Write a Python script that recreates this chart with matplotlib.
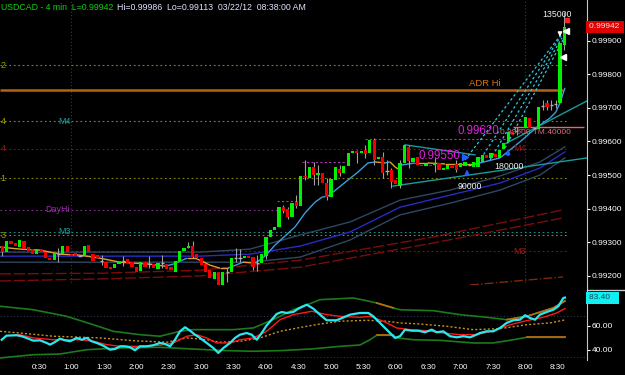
import numpy as np
import matplotlib.pyplot as plt
from matplotlib.collections import LineCollection
from matplotlib.lines import Line2D
from matplotlib.transforms import blended_transform_factory

plt.rcParams['font.family'] = ['Liberation Sans', 'DejaVu Sans']

# ---- 4 min candles, first bar 23:56 ----
opens = [0.99288, 0.99270, 0.99303, 0.99297, 0.99285, 0.99303, 0.99285, 0.99279, 0.99264, 0.99279,
         0.99270, 0.99252, 0.99246, 0.99264, 0.99264, 0.99288, 0.99264, 0.99267, 0.99258, 0.99261,
         0.99291, 0.99264, 0.99261, 0.99243, 0.99240, 0.99225, 0.99222, 0.99234, 0.99243, 0.99249,
         0.99240, 0.99225, 0.99213, 0.99240, 0.99234, 0.99234, 0.99219, 0.99237, 0.99234, 0.99225,
         0.99210, 0.99243, 0.99273, 0.99282, 0.99288, 0.99264, 0.99252, 0.99234, 0.99216, 0.99190,
         0.99210, 0.99172, 0.99210, 0.99210, 0.99252, 0.99252, 0.99252, 0.99258, 0.99255, 0.99237,
         0.99237, 0.99258, 0.99315, 0.99336, 0.99345, 0.99404, 0.99399, 0.99375, 0.99419, 0.99407,
         0.99497, 0.99491, 0.99524, 0.99500, 0.99506, 0.99476, 0.99434, 0.99485, 0.99518, 0.99506,
         0.99527, 0.99566, 0.99572, 0.99566, 0.99575, 0.99566, 0.99604, 0.99548, 0.99554, 0.99512,
         0.99515, 0.99485, 0.99467, 0.99536, 0.99584, 0.99539, 0.99554, 0.99530, 0.99527, 0.99530,
         0.99530, 0.99536, 0.99515, 0.99518, 0.99527, 0.99533, 0.99524, 0.99527, 0.99530, 0.99524,
         0.99524, 0.99539, 0.99560, 0.99551, 0.99563, 0.99551, 0.99578, 0.99599, 0.99628, 0.99631,
         0.99637, 0.99640, 0.99670, 0.99640, 0.99637, 0.99706, 0.99715, 0.99709, 0.99712, 0.99715,
         0.99888]
closes = [0.99270, 0.99303, 0.99294, 0.99288, 0.99306, 0.99279, 0.99273, 0.99264, 0.99279, 0.99270,
          0.99252, 0.99246, 0.99267, 0.99264, 0.99288, 0.99270, 0.99258, 0.99258, 0.99258, 0.99288,
          0.99270, 0.99243, 0.99252, 0.99243, 0.99222, 0.99219, 0.99234, 0.99243, 0.99243, 0.99237,
          0.99225, 0.99210, 0.99240, 0.99225, 0.99234, 0.99222, 0.99237, 0.99237, 0.99219, 0.99216,
          0.99243, 0.99273, 0.99282, 0.99288, 0.99255, 0.99252, 0.99231, 0.99210, 0.99193, 0.99210,
          0.99172, 0.99210, 0.99210, 0.99252, 0.99252, 0.99252, 0.99258, 0.99252, 0.99225, 0.99237,
          0.99264, 0.99315, 0.99336, 0.99345, 0.99404, 0.99393, 0.99375, 0.99416, 0.99407, 0.99497,
          0.99494, 0.99524, 0.99500, 0.99506, 0.99476, 0.99434, 0.99488, 0.99524, 0.99506, 0.99527,
          0.99566, 0.99572, 0.99566, 0.99572, 0.99563, 0.99604, 0.99545, 0.99554, 0.99506, 0.99512,
          0.99479, 0.99473, 0.99536, 0.99590, 0.99542, 0.99551, 0.99530, 0.99527, 0.99533, 0.99527,
          0.99536, 0.99515, 0.99521, 0.99530, 0.99521, 0.99515, 0.99536, 0.99539, 0.99530, 0.99539,
          0.99554, 0.99560, 0.99551, 0.99566, 0.99554, 0.99575, 0.99596, 0.99628, 0.99619, 0.99631,
          0.99634, 0.99673, 0.99640, 0.99640, 0.99703, 0.99706, 0.99703, 0.99709, 0.99712, 0.99894,
          0.99942]

# bars with visible wicks
wick_k = [0, 13, 23, 28, 34, 37, 43, 44, 52, 54, 55, 58, 59, 61, 65, 66, 68, 70, 72, 73, 75, 78,
          82, 84, 86, 88, 89, 90, 92, 94, 100, 105, 119, 125, 126, 127, 128, 130]
wick_hi = [0.99288, 0.99282, 0.99261, 0.99258, 0.99258, 0.99261, 0.99300, 0.99303, 0.99222, 0.99282,
           0.99279, 0.99255, 0.99261, 0.99315, 0.99410, 0.99404, 0.99440, 0.99545, 0.99539, 0.99530,
           0.99491, 0.99530, 0.99575, 0.99590, 0.99610, 0.99569, 0.99545, 0.99521, 0.99545, 0.99590,
           0.99551, 0.99545, 0.99643, 0.99724, 0.99724, 0.99724, 0.99724, 0.99986]
wick_lo = [0.99258, 0.99240, 0.99231, 0.99228, 0.99222, 0.99222, 0.99282, 0.99252, 0.99181, 0.99240,
           0.99240, 0.99216, 0.99213, 0.99249, 0.99387, 0.99369, 0.99401, 0.99485, 0.99470, 0.99470,
           0.99425, 0.99497, 0.99536, 0.99551, 0.99530, 0.99491, 0.99500, 0.99461, 0.99461, 0.99521,
           0.99509, 0.99509, 0.99619, 0.99694, 0.99694, 0.99694, 0.99700, 0.99873]

# fast average (orange when falling, blue when rising)
fast_t = [-6.1, 12.4, 30.9, 49.4, 67.9, 86.4, 104.9, 132.7, 146.6, 154.0, 166.9, 174.3, 180.8, 188.2,
          197.4, 204.8, 209.5, 218.7, 229.8, 239.1, 248.3, 257.6, 266.8, 276.1, 285.3, 291.8, 297.3,
          306.6, 315.8, 325.1, 334.3, 340.8, 350.1, 354.7, 359.3, 362.1, 365.8, 377.8, 389.8, 405.6,
          419.4, 433.3, 437.9, 456.4, 465.7, 474.9, 484.2, 493.4, 502.7, 508.2, 511.9, 516.5]
fast_p = [0.99285, 0.99279, 0.99276, 0.99264, 0.99261, 0.99252, 0.99240, 0.99234, 0.99228, 0.99234,
          0.99252, 0.99252, 0.99243, 0.99231, 0.99222, 0.99222, 0.99228, 0.99240, 0.99237, 0.99258,
          0.99291, 0.99318, 0.99345, 0.99387, 0.99419, 0.99434, 0.99437, 0.99461, 0.99485, 0.99509,
          0.99536, 0.99539, 0.99536, 0.99539, 0.99524, 0.99518, 0.99530, 0.99536, 0.99536, 0.99533,
          0.99533, 0.99533, 0.99536, 0.99551, 0.99575, 0.99599, 0.99625, 0.99649, 0.99670, 0.99688,
          0.99715, 0.99760]

# envelope of the medium average
env_t = [-6.1, 86.4, 178.9, 225.2, 271.4, 317.7, 363.9, 410.2, 456.4, 493.4, 516.5]
env_up = [0.99270, 0.99270, 0.99270, 0.99279, 0.99321, 0.99360, 0.99425, 0.99455, 0.99497, 0.99539, 0.99584]
env_mid = [0.99258, 0.99258, 0.99258, 0.99264, 0.99288, 0.99330, 0.99404, 0.99440, 0.99476, 0.99521, 0.99569]
env_lo = [0.99240, 0.99240, 0.99240, 0.99240, 0.99255, 0.99306, 0.99381, 0.99416, 0.99455, 0.99500, 0.99551]

# slow averages (dark red)
slow_t = [-6.1, 86.4, 178.9, 271.4, 394.4, 514.7]
slow_a = [0.99205, 0.99207, 0.99216, 0.99246, 0.99315, 0.99396]
slow_b = [0.99184, 0.99190, 0.99199, 0.99225, 0.99297, 0.99372]

# drawn lines: (t0, p0, t1, p1)
fan_lines = [(424.1, 0.99545, 511.9, 0.99915), (436.1, 0.99536, 512.9, 0.99915),
             (447.2, 0.99545, 513.8, 0.99909), (461.1, 0.99581, 514.7, 0.99903)]
trend_lines = [(368.6, 0.99590, 433.3, 0.99560), (357.5, 0.99467, 536.9, 0.99551),
               (461.1, 0.99593, 536.9, 0.99721)]

# ---- RSI panel ----
rsi_t = [-4.5, -0.1, 9.4, 14.0, 20.1, 24.7, 30.9, 37.1, 40.2, 44.8, 49.4, 54.1, 58.7, 64.9, 69.5,
         74.1, 78.7, 83.4, 89.5, 95.7, 100.3, 104.9, 109.6, 114.2, 118.8, 123.4, 129.6, 135.7, 141.9,
         146.6, 151.2, 155.8, 160.4, 165.1, 169.7, 174.3, 178.9, 185.1, 191.2, 195.9, 200.5, 206.7,
         211.3, 215.9, 222.1, 226.7, 231.4, 236.0, 240.6, 245.2, 249.9, 254.5, 259.1, 265.2, 269.9,
         277.6, 283.7, 289.9, 296.1, 305.3, 317.7, 326.9, 334.6, 339.2, 345.4, 351.6, 359.3, 363.9,
         368.6, 374.8, 380.9, 387.1, 393.2, 397.9, 404.0, 410.2, 416.4, 422.5, 428.7, 433.3, 437.9,
         444.1, 450.2, 456.4, 462.6, 468.7, 474.9, 479.6, 484.2, 488.8, 493.4, 499.6, 505.7, 510.4,
         515.0, 516.5]
rsi_v = [48.3, 51.7, 52.0, 51.2, 49.2, 47.5, 47.8, 45.6, 44.2, 46.4, 49.2, 47.8, 47.0, 49.8, 48.3,
         49.8, 47.0, 45.6, 43.3, 40.0, 40.6, 42.8, 42.8, 42.0, 39.5, 42.8, 42.8, 43.7, 45.6,
         44.8, 42.8, 48.3, 55.3, 58.7, 55.8, 52.5, 49.8, 45.6, 41.4, 37.3, 41.4, 45.6,
         49.8, 52.5, 53.9, 52.5, 48.3, 53.9, 60.3, 65.0, 69.8, 71.4, 70.6, 71.4, 74.2,
         77.5, 74.2, 69.2, 64.5, 64.5, 69.2, 70.6, 70.6, 67.8, 62.3, 56.7, 49.8, 51.2,
         56.7, 55.8, 55.8, 54.5, 56.7, 54.5, 55.3, 51.2, 50.3, 51.2, 50.3, 52.0, 53.9,
         55.3, 55.3, 58.1, 62.3, 64.5, 65.0, 68.7, 66.4, 65.0, 69.2, 71.4, 73.3, 76.2,
         83.1, 83.4]
sig_t = [6.2, 12.4, 24.7, 43.2, 55.6, 67.9, 80.2, 92.6, 104.9, 123.4, 141.9, 154.2, 166.6, 175.9,
         185.1, 194.4, 206.7, 215.9, 228.2, 240.6, 252.9, 265.2, 282.2, 296.1, 308.4, 326.9, 336.2,
         348.5, 360.9, 373.2, 388.6, 404.0, 419.4, 434.9, 450.2, 465.7, 481.1, 496.5, 508.9, 516.5]
sig_v = [52.0, 52.5, 49.8, 48.3, 48.3, 48.3, 47.0, 44.2, 42.8, 42.8, 43.7, 45.6, 51.2, 52.5,
         49.8, 45.6, 45.6, 48.3, 49.8, 55.3, 65.0, 69.2, 72.0, 69.2, 67.8, 67.0, 67.8,
         63.7, 58.1, 56.7, 55.8, 53.9, 52.5, 52.5, 55.8, 60.8, 64.2, 67.0, 70.6, 74.3]
avg_t = [-6.1, 12.4, 43.2, 86.4, 117.2, 148.1, 166.6, 185.1, 197.4, 215.9, 234.4, 252.9, 271.4,
         289.9, 308.4, 333.1, 351.6, 363.9, 382.4, 407.1, 431.7, 456.4, 481.1, 502.7, 516.5]
avg_v = [55.3, 53.9, 51.2, 49.8, 47.5, 46.2, 49.8, 48.3, 46.2, 47.0, 49.8, 55.3, 58.5,
         61.4, 63.7, 64.5, 63.7, 62.3, 61.4, 59.5, 56.7, 57.5, 60.8, 62.3, 64.8]
bb_up_t = [-6.1, 24.7, 55.6, 80.2, 98.7, 123.4, 141.9, 160.4, 172.7, 209.7, 228.2, 249.9, 265.2,
           282.2, 289.9, 308.4, 320.7, 333.1, 342.4, 357.7, 363.9, 394.7, 419.4, 444.1, 462.6,
           481.1, 505.7, 516.5]
bb_up_v = [76.2, 73.3, 67.8, 60.8, 55.3, 52.5, 51.2, 55.3, 56.7, 56.7, 58.1, 66.4, 73.3,
           78.9, 81.7, 82.5, 83.1, 80.8, 78.9, 74.8, 73.3, 72.5, 69.2, 67.0, 65.0,
           67.8, 74.8, 80.6]
bb_lo_t = [-6.1, 24.7, 49.4, 74.1, 104.9, 141.9, 166.6, 203.6, 228.2, 252.9, 282.2, 308.4, 326.9,
           336.2, 342.4, 357.7, 360.9, 376.3, 400.9, 431.7, 450.2, 468.7, 481.1, 516.5]
bb_lo_v = [33.1, 35.8, 36.4, 40.0, 41.4, 42.0, 40.8, 39.2, 38.7, 39.2, 40.6, 42.8, 43.9,
           48.3, 52.0, 52.0, 49.8, 48.3, 47.8, 45.6, 45.6, 48.3, 50.3, 50.3]

price_ticks = [0.992, 0.993, 0.994, 0.995, 0.996, 0.997, 0.998, 0.999]
time_ticks = [30, 60, 90, 120, 150, 180, 210, 240, 270, 300, 330, 360, 390, 420, 450, 480, 510]
time_labels = ['0:30', '1:00', '1:30', '2:00', '2:30', '3:00', '3:30', '4:00', '4:30', '5:00',
               '5:30', '6:00', '6:30', '7:00', '7:30', '8:00', '8:30']

GREEN = '#00f000'
RED = '#f00000'
XMIN, XMAX = -6.1, 536.9
LEND = 518

fig = plt.figure(figsize=(6.25, 3.75), dpi=100, facecolor='black')
ax = fig.add_axes([0, 1 - 289 / 375, 587 / 625, 289 / 375], facecolor='black')
ax2 = fig.add_axes([0, 15 / 375, 587 / 625, 75 / 375], facecolor='black')

for a in (ax, ax2):
    a.set_xlim(XMIN, XMAX)
    for s in ('top', 'left', 'bottom'):
        a.spines[s].set_visible(False)
    a.spines['right'].set_color('#c8c8c8')
    a.yaxis.tick_right()
    a.tick_params(axis='y', colors='white', labelsize=6, length=2, pad=1.5)

ax.set_ylim(0.99160, 1.00022)
ax2.set_ylim(31.4, 93.9)

# session lines
ax.axvline(60, color='#3c3c1c', lw=0.8, ls=(0, (1, 2)))
ax.axvline(480, color='#1e4646', lw=0.8, ls=(0, (1, 2)))

# horizontal levels
dot = (0, (1.5, 2.5))
ax.hlines(0.99828, XMIN, LEND, color='#8a8a00', lw=0.8, ls=dot)
ax.hlines(0.99754, XMIN, 514.7, color='#b8620f', lw=1.8)
ax.hlines(0.99661, XMIN, LEND, color='#8a8a00', lw=0.8, ls=dot)
ax.hlines(0.99643, 468.5, 534.3, color='#e06a6a', lw=1)
ax.hlines(0.99578, XMIN, LEND, color='#8a1212', lw=0.8, ls=dot)
ax.hlines(0.99491, XMIN, LEND, color='#8a8a00', lw=0.8, ls=dot)
ax.hlines(0.99396, XMIN, 250, color='#8a2a9a', lw=0.8, ls=dot)
ax.hlines(0.99331, XMIN, LEND, color='#1a8c8c', lw=0.8, ls=dot)
ax.hlines(0.99321, XMIN, LEND, color='#8a8a00', lw=0.8, ls=dot)
ax.hlines(0.99273, XMIN, LEND, color='#8a1212', lw=0.8, ls=dot)
ax.hlines([0.99422, 0.99539, 0.99607], [250, 273.3, 331.6], [269.6, 313, 470],
          color='#b030b0', lw=0.8, ls=(0, (2, 2)))

lab = dict(fontsize=6.5, va='center', ha='left')
ax.text(-5.6, 0.99828, '2', color='#a0a000', **lab)
ax.text(-5.6, 0.99661, '4', color='#a0a000', **lab)
ax.text(-5.6, 0.99578, '4', color='#a01818', **lab)
ax.text(-5.6, 0.99491, '1', color='#a0a000', **lab)
ax.text(-5.6, 0.99321, '3', color='#a0a000', **lab)
ax.text(47.6, 0.99661, 'M4', color='#1a9c9c', **lab)
ax.text(47.6, 0.99331, 'M3', color='#1a9c9c', **lab)
ax.text(35.6, 0.99396, 'DayHi', color='#9a2aaa', **lab)
ax.text(468.5, 0.99578, 'M4', color='#a01818', **lab)
ax.text(468.5, 0.99273, 'M3', color='#a01818', **lab)
ax.text(427.8, 0.99772, 'ADR Hi', color='#d87010', fontsize=6.8, va='center', ha='left')

# averages
ax.plot(slow_t, slow_a, color='#7a0c0c', lw=1, ls=(0, (8, 2)))
ax.plot(slow_t, slow_b, color='#7a0c0c', lw=1, ls=(0, (8, 2)))
ax.plot(env_t, env_up, color='#2e4862', lw=1)
ax.plot(env_t, env_lo, color='#2e4862', lw=1)
ax.plot(env_t, env_mid, color='#2a2ac4', lw=1)
ax.plot([428.7, 514.7], [0.99172, 0.99196], color='#7a2a0a', lw=1, ls='-.')

fp = np.column_stack([fast_t, fast_p])
segs = np.stack([fp[:-1], fp[1:]], axis=1)
seg_col = ['#3a9ee0' if b > a else '#e0a030' for a, b in zip(fast_p[:-1], fast_p[1:])]
ax.add_collection(LineCollection(segs, colors=seg_col, linewidths=1))

for t0, p0, t1, p1 in trend_lines:
    ax.plot([t0, t1], [p0, p1], color='#1a9a9a', lw=1)
for t0, p0, t1, p1 in fan_lines:
    ax.plot([t0, t1], [p0, p1], color='#30c8e0', lw=0.9, ls=(0, (2, 2)))

# candles
o = np.array(opens)
c = np.array(closes)
bt = -4 + 4 * np.arange(len(o))
ax.vlines(bt[wick_k], wick_lo, wick_hi, color='#a0a0a0', lw=0.8, zorder=3)
flat = np.abs(c - o) < 0.00002
up = (c > o) & ~flat
dn = (c < o) & ~flat
ax.bar(bt[up], (c - o)[up], bottom=o[up], width=3.0, color=GREEN, zorder=4)
ax.bar(bt[dn], (c - o)[dn], bottom=o[dn], width=3.0, color=RED, zorder=4)
ax.hlines(c[flat], bt[flat] - 1.5, bt[flat] + 1.5, color='#b0b0b0', lw=1, zorder=4)

# markers and annotations
ax.annotate('', xy=(511.9, 0.99904), xytext=(511.9, 0.99930),
            arrowprops=dict(arrowstyle='-|>', color='white', lw=1, mutation_scale=6))
ax.plot([514.7, 517.5], [0.99852, 0.99930], ls='none', marker='<', ms=4, color='white', zorder=6)
ax.plot([518.6], [0.99962], ls='none', marker='s', ms=3.5, color='#ff2020', zorder=6)
ax.annotate('', xy=(425.9, 0.99525), xytext=(425.9, 0.99490),
            arrowprops=dict(arrowstyle='-|>', color='#2060ff', lw=1.2, mutation_scale=6))
ax.annotate('', xy=(463.8, 0.99585), xytext=(463.8, 0.99550),
            arrowprops=dict(arrowstyle='-|>', color='#2060ff', lw=1.2, mutation_scale=6))
ax.plot([424.0], [0.99554], ls='none', marker='>', ms=4, color='#2060ff', zorder=6)

ax.text(380.6, 0.99556, '0.99550', color='#e020e0', fontsize=8.3, va='center', ha='left', zorder=7)
ax.text(416.7, 0.99630, '0.99620', color='#e020e0', fontsize=8.3, va='center', ha='left', zorder=7)
ax.text(456.0, 0.99626, '0.99600 TM.40000', color='#e06a80', fontsize=6, va='center',
        ha='left', zorder=7)
ax.text(509, 0.99979, '135000', color='#f0f0f0', fontsize=6.3, va='center', ha='center', zorder=7)
ax.text(464.3, 0.99525, '180000', color='#f0f0f0', fontsize=6.3, va='center', ha='center', zorder=7)
ax.text(428.2, 0.99465, '90000', color='#f0f0f0', fontsize=6.3, va='center', ha='center', zorder=7)

ax.set_xticks([])
ax.set_yticks(price_ticks)
ax.set_yticklabels(['%.5f' % p for p in price_ticks])
tr = blended_transform_factory(ax.transAxes, ax.transData)
ax.text(1.003, closes[-1], '0.99942 ', transform=tr, color='#ffe0e0', fontsize=6, va='center',
        ha='left', clip_on=False, bbox=dict(boxstyle='square,pad=0.3', fc='#e00000', ec='none'))

# RSI panel
ax2.axhline(68, color='#2a3448', lw=0.8, ls=(0, (1, 2)))
ax2.axhline(33.5, color='#2a3448', lw=0.8, ls=(0, (1, 2)))
bu_t, bu_v = np.array(bb_up_t), np.array(bb_up_v)
bl_t, bl_v = np.array(bb_lo_t), np.array(bb_lo_v)
ax2.plot(bu_t, bu_v, color='#1c7a1c', lw=1.2)
ax2.plot(bl_t, bl_v, color='#1c7a1c', lw=1.2)
for lo_, hi_ in ((342, 358), (462, 517)):
    m = (bu_t >= lo_) & (bu_t <= hi_)
    ax2.plot(bu_t[m], bu_v[m], color='#c06a10', lw=1.2)
for lo_, hi_ in ((342, 358), (481, 517)):
    m = (bl_t >= lo_) & (bl_t <= hi_)
    ax2.plot(bl_t[m], bl_v[m], color='#c06a10', lw=1.2)
ax2.plot(avg_t, avg_v, color='#c89020', lw=1, ls=(0, (1.5, 1.5)))
ax2.plot(sig_t, sig_v, color='#ff1818', lw=1)
ax2.plot(rsi_t, rsi_v, color='#28e8f0', lw=1.6)

ax2.set_yticks([40, 60])
ax2.set_yticklabels(['40.00', '60.00'])
ax2.set_xticks(time_ticks)
ax2.set_xticklabels(time_labels)
ax2.tick_params(axis='x', colors='white', labelsize=5.8, length=0, pad=3)
tr2 = blended_transform_factory(ax2.transAxes, ax2.transData)
ax2.text(1.003, rsi_v[-1], '83.40   ', transform=tr2, color='#0a4a5a', fontsize=6, va='center',
         ha='left', clip_on=False, bbox=dict(boxstyle='square,pad=0.3', fc='#10f0f0', ec='none'))

fig.add_artist(Line2D([587 / 625, 1], [1 - 289.5 / 375] * 2, color='#c8c8c8', lw=1,
                      transform=fig.transFigure))

fig.text(0.002, 1 - 7 / 375, 'USDCAD - 4 min  L=0.99942', color='#10d010', fontsize=6.3,
         va='center', ha='left')
fig.text(117 / 625, 1 - 7 / 375, 'Hi=0.99986  Lo=0.99113  03/22/12  08:38:00 AM',
         color='#e0e4ff', fontsize=6.3, va='center', ha='left')

fig.savefig('out.png', dpi=100, facecolor='black')
